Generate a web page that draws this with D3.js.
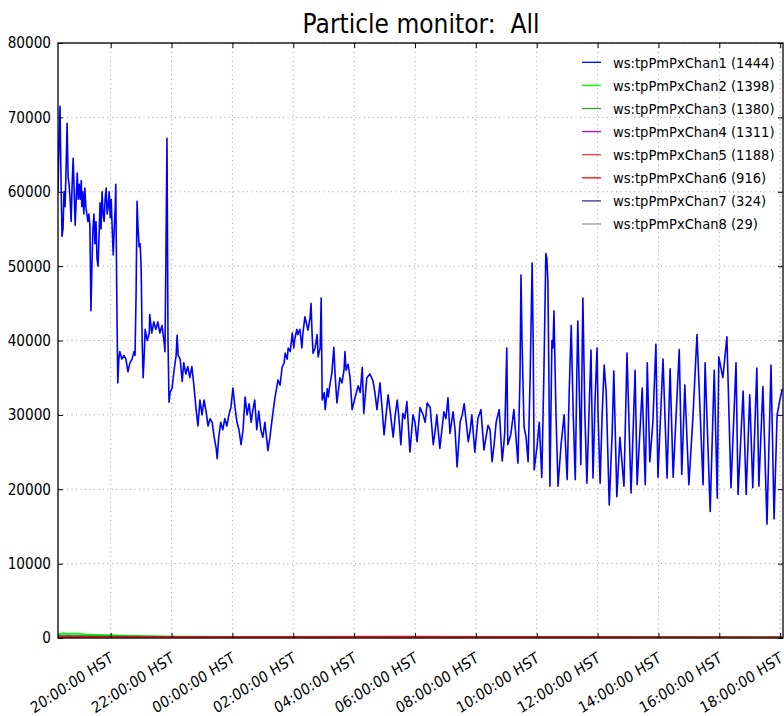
<!DOCTYPE html>
<html>
<head>
<meta charset="utf-8">
<script src="https://cdn.jsdelivr.net/npm/d3@7"></script>
<style>
  body { margin: 0; background: #fff; }
  text { font-family: "DejaVu Sans", sans-serif; fill: #000; }
</style>
</head>
<body>
<svg id="chart" width="784" height="716"></svg>
<script>
// minutes after 18:00 HST (day 1), particle counts
const chan1 = [
  [16,60000],[18,66000],[20,71500],[22,62000],[24,54000],[26,55000],[28,60000],[30,58000],
  [32,63000],[34,69200],[36,62000],[38,61000],[40,59000],[42,56000],[44,61000],[46,64500],
  [48,60000],[50,55500],[52,59000],[54,62500],[56,59000],[58,61000],[60,59000],[62,61500],
  [63,58000],[65,60000],[67,57000],[69,60500],[71,58000],[73,57000],[75,56000],[77,57000],
  [79,55500],[81,44000],[83,50000],[85,55000],[87,57000],[89,53000],[91,56000],[93,51000],
  [95,50000],[97,54000],[99,58500],[101,55000],[103,60000],[105,57000],[107,56000],[109,59000],
  [111,60500],[113,57000],[115,58000],[117,60000],[119,56500],[121,59000],[123,55000],[125,51500],
  [127,55000],[129,58000],[130,61000],[132,46000],[134,34300],[136,37500],[138,38500],[142,37500],
  [146,38000],[150,37500],[154,35800],[158,37000],[162,37500],[166,38500],[168,38000],[170,46000],
  [172,58700],[174,55000],[176,52600],[178,53000],[180,50000],[182,40000],[184,35000],[186,38000],
  [188,41500],[192,40000],[196,41000],[197,43500],[201,41000],[205,42500],[209,41500],[213,42500],
  [217,41000],[221,42000],[225,40000],[227,38500],[229,52000],[231,67200],[233,40000],[235,31700],
  [237,33000],[241,33600],[245,36000],[249,38000],[251,40700],[253,38000],[257,37500],[261,34500],
  [264,37000],[268,35500],[272,36500],[276,35000],[280,36500],[284,34000],[288,31000],[292,28500],
  [296,32000],[300,30000],[304,32000],[308,30500],[312,28500],[316,29500],[320,29000],[324,27000],
  [328,25500],[330,24100],[333,27000],[337,29000],[341,28000],[345,29500],[349,28500],[353,30000],
  [357,31000],[361,33600],[365,31000],[369,29000],[373,28000],[377,26000],[381,28000],[385,32400],
  [389,30000],[393,31500],[397,29000],[400,30500],[404,32000],[408,28000],[412,30500],[416,28000],
  [420,27000],[424,29000],[430,25200],[434,27000],[438,29300],[444,32400],[450,34700],[454,34000],
  [458,36400],[462,37000],[464,38300],[468,37500],[470,39000],[474,38500],[478,41000],[481,39000],
  [483,40200],[487,41500],[489,40800],[493,41500],[497,39000],[499,41000],[503,43200],[507,42000],
  [509,41400],[513,43000],[515,45000],[517,41000],[519,38300],[523,39000],[527,40800],[529,37800],
  [533,39000],[535,45700],[537,32000],[541,33000],[543,30700],[547,33500],[549,32400],[552,34000],
  [556,35600],[560,39100],[562,36000],[566,31600],[572,35000],[576,34300],[580,36000],[582,38500],
  [584,36000],[588,36800],[592,35000],[596,30700],[602,32400],[608,33900],[612,33000],[616,36400],
  [619,30200],[625,35000],[631,35500],[637,34600],[641,33000],[645,30700],[651,34300],[655,31000],
  [659,27300],[663,30000],[667,32700],[671,30500],[677,27000],[681,30000],[685,32000],[689,29000],
  [692,26000],[696,30200],[700,29500],[704,31800],[710,25000],[716,30000],[720,29000],[724,26400],
  [730,31000],[736,30000],[740,29000],[744,31600],[750,31000],[756,26000],[760,28000],[763,30000],
  [769,25500],[773,28000],[777,30400],[781,29500],[785,32300],[789,27500],[795,30400],[799,28000],
  [803,23000],[809,29000],[813,30000],[817,31500],[821,29000],[825,26400],[829,28000],[832,30000],
  [838,25000],[844,29500],[850,30700],[856,25300],[860,27000],[864,28600],[868,28000],[872,23700],
  [876,26000],[880,29000],[886,30700],[892,23800],[895,26000],[897,27700],[901,39000],[903,26000],
  [909,27400],[915,30700],[919,27000],[923,23500],[927,35000],[929,48800],[931,40000],[935,28400],
  [939,27000],[943,23700],[947,35000],[951,50400],[953,40000],[955,22600],[961,26000],[965,29000],
  [970,21600],[974,35000],[978,51700],[980,51000],[982,48000],[984,35000],[986,20400],[990,40000],
  [992,39000],[994,44000],[998,30000],[1002,20400],[1008,26000],[1014,30000],[1020,21300],[1024,33000],
  [1028,42000],[1032,30000],[1036,21300],[1039,35000],[1041,42600],[1045,30000],[1047,23300],[1049,35000],
  [1051,45700],[1055,30000],[1059,20800],[1063,30000],[1067,38700],[1071,21500],[1075,32000],[1079,39000],
  [1081,30000],[1085,20800],[1089,30000],[1093,36700],[1097,33000],[1103,17900],[1109,28000],[1112,35900],
  [1118,19000],[1124,27000],[1132,20400],[1138,38300],[1146,19500],[1154,36000],[1158,20600],[1168,33600],
  [1174,20600],[1178,37000],[1183,23700],[1189,29000],[1195,39500],[1199,21600],[1209,37500],[1217,21500],
  [1223,36200],[1229,21600],[1241,38800],[1246,22000],[1252,34000],[1260,20600],[1268,29700],[1276,40800],
  [1288,20600],[1292,37000],[1302,17000],[1310,36000],[1316,18800],[1319,37800],[1327,35000],[1335,40500],
  [1343,20200],[1353,37000],[1357,19300],[1367,33200],[1373,19300],[1380,32700],[1386,20200],[1394,36300],
  [1398,20400],[1406,33800],[1414,15300],[1422,36700],[1428,16000],[1434,30000],[1438,31500],[1444,33500]
];
const chan2 = [[16,500],[25,650],[35,560],[50,600],[65,520],[80,470],[100,430],[120,380],[150,320],
  [190,260],[240,210],[300,190],[400,170],[550,160],[800,150],[1100,150],[1444,140]];
const chan3 = [[16,350],[60,330],[120,260],[200,180],[400,110],[800,70],[1444,50]];
const chan4 = [[16,200],[100,170],[300,110],[700,70],[1444,40]];
const chan5 = [[16,150],[200,110],[600,70],[1444,40]];
const chan6 = [[16,170],[300,160],[700,180],[900,150],[1444,140]];
const chan7 = [[16,30],[700,20],[1444,15]];
const chan8 = [[16,3],[1444,2]];

const seriesNames = ["ws:tpPmPxChan1 (1444)", "ws:tpPmPxChan2 (1398)", "ws:tpPmPxChan3 (1380)",
  "ws:tpPmPxChan4 (1311)", "ws:tpPmPxChan5 (1188)", "ws:tpPmPxChan6 (916)",
  "ws:tpPmPxChan7 (324)", "ws:tpPmPxChan8 (29)"];
const seriesColors = ["#0000ff", "#00ff00", "#3c9a3c", "#cc00cc", "#e04040", "#ff0000", "#333399", "#999999"];
const seriesData = [chan1, chan2, chan3, chan4, chan5, chan6, chan7, chan8];

const yTicks = [0, 10000, 20000, 30000, 40000, 50000, 60000, 70000, 80000];
const startMin = 16.1, endMin = 1445.6;

const base = new Date(2016, 0, 1, 18, 0, 0);
const toTime = m => new Date(base.getTime() + m * 60000);

const squeeze = 0.88; // the picture's text is narrowed horizontally
const labelSize = "15.5px";
const margin = { left: 58, top: 43, right: 783, bottom: 638 };
const svg = d3.select("#chart");

const x = d3.scaleTime()
    .domain([toTime(startMin), toTime(endMin)])
    .range([margin.left, margin.right]);
const y = d3.scaleLinear()
    .domain([0, 80000])
    .range([margin.bottom, margin.top]);

const xTicks = x.ticks(d3.timeHour.every(2));

// grid
const grid = svg.append("g")
    .attr("stroke", "#888")
    .attr("stroke-width", 0.8)
    .attr("stroke-dasharray", "1,3.5");
grid.selectAll(".gx").data(xTicks).enter().append("line")
    .attr("x1", d => x(d)).attr("x2", d => x(d))
    .attr("y1", margin.top).attr("y2", margin.bottom);
grid.selectAll(".gy").data(yTicks).enter().append("line")
    .attr("x1", margin.left).attr("x2", margin.right)
    .attr("y1", d => y(d)).attr("y2", d => y(d));

// lines
svg.append("clipPath").attr("id", "clip").append("rect")
    .attr("x", margin.left).attr("y", margin.top)
    .attr("width", margin.right - margin.left).attr("height", margin.bottom - margin.top);

const line = d3.line()
    .x(d => x(toTime(d[0])))
    .y(d => y(d[1]));

svg.append("g").attr("clip-path", "url(#clip)")
    .selectAll("path").data(seriesData).enter().append("path")
    .attr("d", d => line(d))
    .attr("fill", "none")
    .attr("stroke", (d, i) => seriesColors[i])
    .attr("stroke-width", 1.6)
    .attr("stroke-linejoin", "round");

// axes (ticks inward on all four sides)
const fmt = d3.timeFormat("%H:%M:%S HST");
const xAxis = svg.append("g")
    .attr("transform", `translate(0,${margin.bottom})`)
    .call(d3.axisBottom(x).tickValues(xTicks).tickSize(-5).tickFormat(fmt));
xAxis.selectAll("text")
    .attr("x", 0).attr("y", 0).attr("dy", "0.75em")
    .attr("text-anchor", "end")
    .attr("transform", `translate(-2,13) scale(${squeeze},1) rotate(-30)`)
    .style("font-size", labelSize);

svg.append("g")
    .attr("transform", `translate(0,${margin.top})`)
    .call(d3.axisTop(x).tickValues(xTicks).tickSize(-5).tickFormat(""));

const yAxis = svg.append("g")
    .attr("transform", `translate(${margin.left},0)`)
    .call(d3.axisLeft(y).tickValues(yTicks).tickSize(-5).tickFormat(d3.format("d")));
yAxis.selectAll("text")
    .attr("x", 0)
    .attr("transform", `translate(-7,0) scale(${squeeze},1)`)
    .style("font-size", labelSize);

svg.append("g")
    .attr("transform", `translate(${margin.right},0)`)
    .call(d3.axisRight(y).tickValues(yTicks).tickSize(-5).tickFormat(""));

svg.selectAll(".domain").remove();
svg.selectAll(".tick line").attr("stroke", "#000").attr("stroke-width", 1);

svg.append("rect")
    .attr("x", margin.left).attr("y", margin.top)
    .attr("width", margin.right - margin.left).attr("height", margin.bottom - margin.top)
    .attr("fill", "none").attr("stroke", "#000").attr("stroke-width", 1.3);

// title
svg.append("text")
    .attr("x", 421).attr("y", 33)
    .attr("text-anchor", "middle")
    .attr("textLength", 237)
    .attr("lengthAdjust", "spacingAndGlyphs")
    .style("font-size", "27px")
    .style("white-space", "pre")
    .text("Particle monitor:  All");

// legend
const legend = svg.append("g");
seriesNames.forEach((name, i) => {
    const ly = 62.3 + i * 23.1;
    legend.append("line")
        .attr("x1", 582).attr("x2", 601)
        .attr("y1", ly).attr("y2", ly)
        .attr("stroke", seriesColors[i]).attr("stroke-width", 1.3);
    legend.append("text")
        .attr("transform", `translate(613,${ly}) scale(${squeeze},1)`)
        .attr("dy", "0.36em")
        .style("font-size", "14.9px")
        .text(name);
});
</script>
</body>
</html>
